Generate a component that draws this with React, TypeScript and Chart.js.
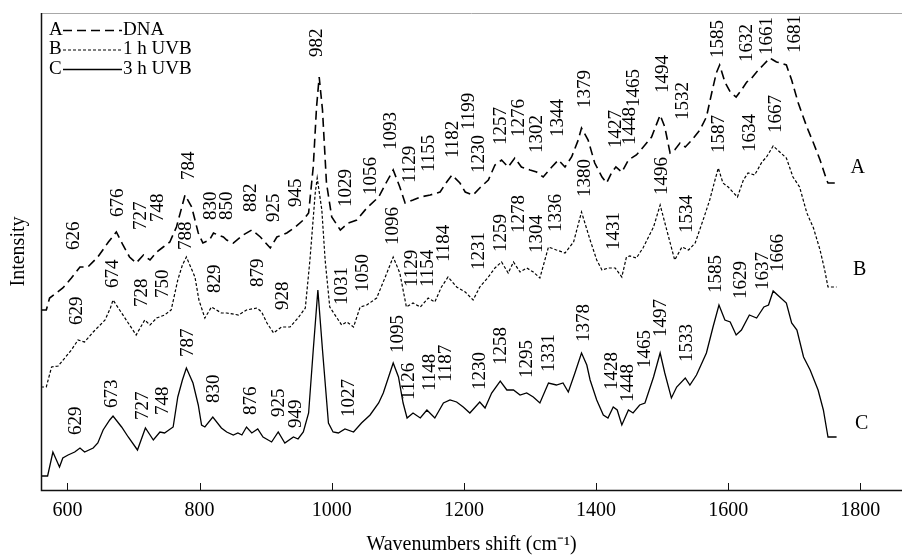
import React, { useEffect, useRef } from 'react';
import { Chart, registerables } from 'chart.js';

Chart.register(...registerables);

const SERIF = '"Liberation Serif", "Times New Roman", Times, serif';

// Axis
const xTicks = [600, 800, 1000, 1200, 1400, 1600, 1800];
const xMin = 560;
const xMax = 1863;
const yMin = 0;
const yMax = 477;

// Spectra: [wavenumber (cm-1), intensity (arbitrary, offset)]
const spectrumDNA: [number, number][] = [
  [560, 180], [568, 180], [573, 192], [583, 197], [593, 202], [606, 212], [619, 223], [631, 223], [646, 233], [662, 248],
  [674, 258], [684, 245], [694, 233], [704, 227], [715, 235], [725, 230], [735, 238], [745, 243], [755, 248], [765, 263],
  [778, 295], [788, 283], [798, 257], [805, 247], [815, 250], [821, 257], [828, 255], [836, 253], [841, 250], [851, 247],
  [866, 255], [879, 260], [892, 253], [907, 242], [917, 253], [932, 257], [945, 263], [957, 270], [965, 277], [972, 323],
  [977, 383], [981, 413], [986, 380], [992, 307], [1000, 273], [1013, 260], [1025, 267], [1038, 270], [1053, 282], [1071, 293],
  [1083, 308], [1093, 320], [1103, 303], [1111, 287], [1123, 290], [1134, 293], [1149, 295], [1164, 298], [1174, 308], [1182, 315],
  [1194, 307], [1202, 298], [1214, 295], [1224, 302], [1237, 310], [1247, 325], [1257, 330], [1267, 323], [1277, 332], [1287, 323],
  [1300, 320], [1310, 318], [1320, 313], [1333, 323], [1343, 330], [1353, 323], [1363, 333], [1373, 350], [1378, 362], [1388, 350],
  [1398, 327], [1409, 313], [1416, 307], [1424, 318], [1430, 323], [1439, 318], [1449, 330], [1461, 335], [1474, 345], [1484, 353],
  [1497, 375], [1504, 363], [1512, 337], [1519, 340], [1527, 347], [1535, 343], [1545, 350], [1557, 360], [1567, 373], [1575, 397],
  [1582, 417], [1587, 425], [1595, 408], [1603, 398], [1612, 393], [1620, 400], [1628, 408], [1633, 410], [1643, 418], [1653, 425],
  [1663, 432], [1668, 430], [1673, 428], [1679, 427], [1688, 425], [1696, 410], [1706, 387], [1719, 363], [1729, 347], [1739, 330],
  [1749, 310], [1751, 307], [1764, 307],
];

const spectrum1hUVB: [number, number][] = [
  [560, 103], [568, 103], [576, 123], [586, 124], [596, 132], [606, 140], [616, 150], [626, 148], [639, 158], [657, 170],
  [665, 182], [669, 190], [682, 177], [692, 167], [704, 155], [717, 170], [725, 165], [735, 172], [747, 175], [757, 180],
  [767, 210], [774, 225], [780, 233], [793, 213], [799, 190], [808, 172], [818, 183], [833, 177], [841, 177], [859, 175],
  [871, 180], [887, 182], [894, 178], [902, 167], [912, 157], [924, 163], [937, 163], [949, 172], [960, 182], [967, 230],
  [975, 297], [978, 312], [985, 280], [990, 230], [997, 183], [1008, 172], [1015, 165], [1023, 168], [1033, 163], [1043, 183],
  [1053, 185], [1068, 192], [1081, 213], [1093, 233], [1103, 217], [1113, 183], [1123, 187], [1134, 183], [1146, 192], [1156, 188],
  [1166, 203], [1176, 213], [1189, 203], [1202, 198], [1214, 190], [1224, 203], [1237, 213], [1247, 222], [1257, 228], [1267, 217],
  [1275, 228], [1285, 218], [1295, 222], [1305, 218], [1315, 212], [1328, 243], [1340, 240], [1353, 237], [1366, 248], [1378, 278],
  [1391, 250], [1401, 230], [1409, 220], [1419, 222], [1429, 222], [1439, 213], [1446, 233], [1451, 234], [1461, 232], [1471, 242],
  [1487, 263], [1497, 285], [1507, 260], [1519, 230], [1530, 243], [1540, 240], [1550, 247], [1562, 270], [1572, 290], [1580, 310],
  [1585, 322], [1592, 307], [1600, 303], [1614, 293], [1623, 310], [1630, 317], [1640, 315], [1651, 328], [1658, 333], [1668, 344],
  [1678, 338], [1688, 332], [1698, 313], [1708, 303], [1719, 277], [1729, 262], [1739, 240], [1746, 220], [1751, 203], [1764, 203],
];

const spectrum3hUVB: [number, number][] = [
  [560, 14], [570, 14], [578, 38], [588, 23], [593, 32], [601, 35], [611, 38], [619, 42], [626, 38], [639, 42],
  [646, 47], [654, 60], [664, 70], [669, 74], [682, 63], [692, 53], [706, 40], [718, 62], [730, 50], [740, 58],
  [747, 57], [760, 63], [767, 93], [774, 110], [780, 122], [790, 107], [798, 85], [803, 65], [808, 63], [820, 73],
  [833, 62], [841, 58], [851, 55], [858, 57], [864, 55], [871, 63], [879, 57], [888, 61], [896, 53], [909, 48],
  [919, 58], [929, 47], [942, 53], [949, 51], [957, 58], [965, 77], [972, 140], [979, 200], [986, 140], [995, 67],
  [1002, 58], [1010, 57], [1020, 61], [1033, 58], [1045, 67], [1058, 75], [1071, 87], [1078, 97], [1086, 113], [1093, 127],
  [1101, 113], [1108, 87], [1114, 72], [1123, 77], [1134, 72], [1144, 80], [1156, 72], [1169, 87], [1179, 90], [1189, 88],
  [1199, 83], [1209, 77], [1224, 88], [1232, 82], [1242, 97], [1255, 109], [1265, 100], [1275, 100], [1285, 95], [1295, 97],
  [1305, 93], [1315, 87], [1328, 107], [1340, 105], [1350, 107], [1358, 98], [1368, 117], [1378, 137], [1386, 125], [1391, 110],
  [1401, 90], [1411, 75], [1418, 72], [1426, 83], [1432, 80], [1439, 65], [1449, 80], [1456, 77], [1466, 85], [1474, 87],
  [1487, 113], [1497, 137], [1504, 117], [1514, 92], [1522, 103], [1535, 112], [1542, 105], [1552, 115], [1567, 137], [1577, 163],
  [1586, 185], [1595, 170], [1603, 168], [1612, 155], [1620, 160], [1632, 175], [1643, 172], [1654, 183], [1661, 185], [1668, 199],
  [1678, 193], [1688, 187], [1696, 167], [1704, 160], [1714, 133], [1724, 120], [1736, 100], [1744, 80], [1751, 53], [1764, 53],
];

// Peak labels: [text, x position (cm-1), y position of label start]
const peaksDNA: [string, number, number][] = [
  ['626', 610, 240], ['676', 677, 273], ['727', 712, 260], ['748', 737, 268], ['784', 784, 310],
  ['830', 817, 270], ['850', 842, 270], ['882', 878, 278], ['925', 913, 268], ['945', 946, 283],
  ['982', 978, 433], ['1029', 1022, 283], ['1056', 1059, 295], ['1093', 1090, 340], ['1129', 1119, 307],
  ['1155', 1147, 318], ['1182', 1183, 332], ['1199', 1208, 360], ['1230', 1223, 317], ['1257', 1256, 345],
  ['1276', 1283, 353], ['1302', 1311, 337], ['1344', 1342, 353], ['1379', 1383, 382], ['1427', 1430, 342],
  ['1448', 1451, 345], ['1465', 1458, 383], ['1494', 1501, 397], ['1532', 1531, 370], ['1585', 1584, 432],
  ['1632', 1628, 428], ['1661', 1659, 435], ['1681', 1701, 437],
];

const peaks1hUVB: [string, number, number][] = [
  ['629', 614, 165], ['674', 669, 202], ['728', 713, 183], ['750', 745, 192], ['788', 779, 240],
  ['829', 824, 197], ['879', 888, 203], ['928', 926, 180], ['1031', 1016, 185], ['1050', 1047, 198],
  ['1096', 1092, 245], ['1129', 1122, 203], ['1154', 1146, 203], ['1184', 1170, 228], ['1231', 1223, 220],
  ['1259', 1256, 238], ['1278', 1283, 257], ['1304', 1311, 237], ['1336', 1339, 258], ['1380', 1383, 293],
  ['1431', 1427, 240], ['1496', 1500, 295], ['1534', 1538, 257], ['1587', 1586, 337], ['1634', 1633, 338],
  ['1667', 1672, 357],
];

const peaks3hUVB: [string, number, number][] = [
  ['629', 613, 55], ['673', 668, 82], ['727', 714, 70], ['748', 744, 75], ['787', 782, 133],
  ['830', 822, 87], ['876', 878, 75], ['925', 920, 73], ['949', 946, 62], ['1027', 1026, 73],
  ['1095', 1101, 137], ['1126', 1117, 90], ['1148', 1149, 99], ['1187', 1173, 108], ['1230', 1224, 100],
  ['1258', 1256, 125], ['1295', 1296, 112], ['1331', 1329, 118], ['1378', 1382, 148], ['1428', 1424, 100],
  ['1448', 1448, 88], ['1465', 1474, 122], ['1497', 1498, 153], ['1533', 1538, 128], ['1585', 1581, 197],
  ['1629', 1620, 191], ['1637', 1652, 200], ['1666', 1675, 218],
];

const curveTags: [string, number, number][] = [
  ['A', 1796, 322], ['B', 1799, 220], ['C', 1802, 66],
];

const legendTags = ['A', 'B', 'C'];
const legendNames = ['DNA', '1 h UVB', '3 h UVB'];

const dashA = [9, 5];
const dashB = [3, 2];
const dashC: number[] = [];

const annotatePlugin = {
  id: 'annotate',
  afterDatasetsDraw(chart: any) {
    const { ctx, chartArea: a, scales } = chart;
    const x = scales.x;
    const y = scales.y;
    ctx.save();
    // frame
    ctx.setLineDash([]);
    ctx.strokeStyle = '#a8a8a8';
    ctx.lineWidth = 1;
    ctx.beginPath();
    ctx.moveTo(a.left, a.top + 0.5);
    ctx.lineTo(a.right, a.top + 0.5);
    ctx.stroke();
    ctx.strokeStyle = '#111';
    ctx.lineWidth = 1.5;
    ctx.beginPath();
    ctx.moveTo(a.left + 0.5, a.top);
    ctx.lineTo(a.left + 0.5, a.bottom + 0.5);
    ctx.lineTo(a.right, a.bottom + 0.5);
    ctx.stroke();
    // inward tick marks
    ctx.lineWidth = 1;
    for (const t of xTicks) {
      const px = Math.round(x.getPixelForValue(t)) + 0.5;
      ctx.beginPath();
      ctx.moveTo(px, a.bottom);
      ctx.lineTo(px, a.bottom - 7);
      ctx.stroke();
    }
    // peak labels
    ctx.fillStyle = '#000';
    ctx.font = `19px ${SERIF}`;
    ctx.textAlign = 'left';
    ctx.textBaseline = 'middle';
    const all = [...peaksDNA, ...peaks1hUVB, ...peaks3hUVB];
    for (const [t, vx, vy] of all) {
      ctx.save();
      ctx.translate(x.getPixelForValue(vx), y.getPixelForValue(vy));
      ctx.rotate(-Math.PI / 2);
      ctx.fillText(t, 0, 0);
      ctx.restore();
    }
    // curve tags
    ctx.font = `20px ${SERIF}`;
    ctx.textAlign = 'center';
    for (const [t, vx, vy] of curveTags) {
      ctx.fillText(t, x.getPixelForValue(vx), y.getPixelForValue(vy));
    }
    // legend
    ctx.font = `19px ${SERIF}`;
    ctx.textAlign = 'left';
    const dashes = [dashA, dashB, dashC];
    const widths = [1.6, 1.2, 1.3];
    for (let i = 0; i < legendTags.length; i++) {
      const rowY = a.top + 17 + i * 19.5;
      const lx = a.left + 8;
      ctx.fillText(legendTags[i], lx, rowY);
      ctx.beginPath();
      ctx.setLineDash(dashes[i]);
      ctx.lineWidth = widths[i];
      ctx.strokeStyle = '#000';
      ctx.moveTo(lx + 14, rowY + 0.5);
      ctx.lineTo(lx + 73, rowY + 0.5);
      ctx.stroke();
      ctx.setLineDash([]);
      ctx.fillText(legendNames[i], lx + 74, rowY);
    }
    ctx.restore();
  },
};

export default function App() {
  const canvasRef = useRef<HTMLCanvasElement | null>(null);

  useEffect(() => {
    const canvas = canvasRef.current;
    if (!canvas) return;
    const toPts = (s: [number, number][]) => s.map(([px, py]) => ({ x: px, y: py }));
    const chart = new Chart(canvas, {
      type: 'line',
      data: {
        datasets: [
          {
            label: 'DNA',
            data: toPts(spectrumDNA),
            borderColor: '#000',
            borderWidth: 1.6,
            borderDash: dashA,
            pointRadius: 0,
            tension: 0,
            fill: false,
          },
          {
            label: '1 h UVB',
            data: toPts(spectrum1hUVB),
            borderColor: '#000',
            borderWidth: 1.2,
            borderDash: dashB,
            pointRadius: 0,
            tension: 0,
            fill: false,
          },
          {
            label: '3 h UVB',
            data: toPts(spectrum3hUVB),
            borderColor: '#000',
            borderWidth: 1.3,
            borderDash: dashC,
            pointRadius: 0,
            tension: 0,
            fill: false,
          },
        ],
      },
      options: {
        animation: false,
        responsive: false,
        maintainAspectRatio: false,
        parsing: false as any,
        layout: { padding: { top: 13, left: 0, right: 0, bottom: 0 } },
        plugins: {
          legend: { display: false },
          tooltip: { enabled: false },
        },
        scales: {
          x: {
            type: 'linear',
            min: xMin,
            max: xMax,
            afterBuildTicks: (scale: any) => {
              scale.ticks = xTicks.map((v) => ({ value: v }));
            },
            afterFit: (scale: any) => {
              scale.height = 66;
            },
            grid: { display: false, drawTicks: false },
            border: { display: false },
            ticks: {
              color: '#000',
              font: { family: SERIF, size: 20 },
              padding: 9,
              maxRotation: 0,
              autoSkip: false,
              callback: (v: any) => String(v),
            },
            title: {
              display: true,
              text: 'Wavenumbers shift (cm\u207B\u00B9)',
              color: '#000',
              font: { family: SERIF, size: 20 },
              padding: { top: 0, bottom: -1 },
            },
          },
          y: {
            type: 'linear',
            min: yMin,
            max: yMax,
            afterFit: (scale: any) => {
              scale.width = 41;
            },
            grid: { display: false, drawTicks: false },
            border: { display: false },
            ticks: { display: false },
            title: {
              display: true,
              text: 'Intensity',
              color: '#000',
              font: { family: SERIF, size: 20 },
              padding: { top: 7, bottom: 0 },
            },
          },
        },
      },
      plugins: [annotatePlugin],
    });
    return () => chart.destroy();
  }, []);

  return (
    <div style={{ position: 'absolute', left: 0, top: 0, width: 902, height: 556, background: '#fff' }}>
      <canvas ref={canvasRef} width={902} height={556} style={{ display: 'block', width: 902, height: 556 }} />
    </div>
  );
}
